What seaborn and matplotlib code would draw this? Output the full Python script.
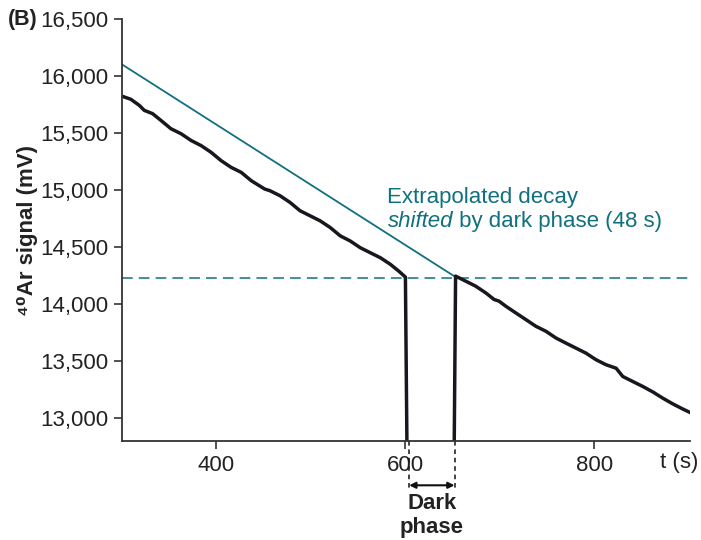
import numpy as np
import pandas as pd
import matplotlib
matplotlib.use("Agg")
import matplotlib.pyplot as plt
import matplotlib.transforms as mtransforms
import seaborn as sns

# ---- data ----
time_before = [300.5, 309.4, 318.3, 323.6, 332.4, 341.2, 351.8, 362.5, 373.1, 383.7,
               394.3, 404.9, 415.5, 426.2, 436.8, 451.0, 456.6, 467.3, 477.9, 488.5,
               499.1, 509.7, 520.4, 531.0, 541.6, 552.2, 562.8, 573.5, 584.1, 592.9,
               600.0, 601.8]
signal_before = [15824, 15798, 15745, 15701, 15672, 15613, 15540, 15496, 15437, 15392,
                 15333, 15260, 15201, 15157, 15084, 15011, 14996, 14952, 14893, 14820,
                 14776, 14732, 14673, 14600, 14555, 14496, 14452, 14408, 14350, 14291,
                 14238, 12600]
time_after = [651.5, 653.1, 663.7, 674.3, 685.0, 693.8, 699.1, 706.2, 716.8, 727.4,
              738.0, 748.7, 759.3, 769.9, 780.5, 791.1, 801.8, 812.4, 823.0, 830.1,
              840.7, 851.4, 862.0, 872.6, 883.2, 893.8, 902.6]
signal_after = [12600, 14247, 14203, 14159, 14100, 14042, 14027, 13983, 13924, 13866,
                13807, 13763, 13704, 13659, 13615, 13571, 13513, 13469, 13439, 13366,
                13322, 13278, 13230, 13175, 13125, 13080, 13045]
extrap_time = [300, 651.5]
extrap_signal = [16104, 14247]
baseline_level = 14230
dark_start, dark_end = 604, 652
x_ticks = [400, 600, 800]
y_ticks = [13000, 13500, 14000, 14500, 15000, 15500, 16000, 16500]

df = pd.DataFrame({
    "t": time_before + time_after,
    "signal": signal_before + signal_after,
    "seg": ["before"] * len(time_before) + ["after"] * len(time_after),
})
df_ex = pd.DataFrame({"t": extrap_time, "signal": extrap_signal})

sns.set_theme(style="ticks")
plt.rcParams["font.family"] = ["Liberation Sans", "DejaVu Sans"]

teal = "#10707f"
ink = "#222222"
fs = 16
fig = plt.figure(figsize=(7.01, 5.40), dpi=100)
ax = fig.add_axes([0.174, 0.1833, 0.81, 0.781])

sns.lineplot(data=df_ex, x="t", y="signal", color=teal, lw=1.3, ax=ax,
             estimator=None, sort=False)
sns.lineplot(data=df, x="t", y="signal", units="seg", color="#17171f", lw=2.5, ax=ax,
             estimator=None, sort=False)
ax.axhline(baseline_level, color=teal, lw=1.1, ls=(0, (7, 4)), zorder=1)

ax.set_xlim(300, 901)
ax.set_ylim(12800, 16500)
ax.set_xticks(x_ticks)
ax.set_yticks(y_ticks)
ax.set_yticklabels([f"{v:,}" for v in y_ticks])
ax.tick_params(axis="both", labelsize=fs, length=6, width=1.2, colors="#333333",
               labelcolor=ink, pad=4)
for s in ["top", "right"]:
    ax.spines[s].set_visible(False)
for s in ["left", "bottom"]:
    ax.spines[s].set_color("#333333")
    ax.spines[s].set_linewidth(1.3)

ax.set_xlabel("")
ax.set_ylabel("\u2074\u2070Ar signal (mV)", fontsize=fs, fontweight="bold", color=ink)
ax.yaxis.set_label_coords(-0.148, 0.5)

trans = mtransforms.blended_transform_factory(ax.transData, ax.transAxes)
ax.text(890, -0.05, "t (s)", transform=trans, ha="center", va="center", fontsize=fs,
        color=ink)
for xv in (dark_start, dark_end):
    ax.plot([xv, xv], [0, -0.112], transform=trans, color="#111111", lw=1.1,
            ls=(0, (3, 2.5)), clip_on=False)
ax.annotate("", xy=(dark_start, -0.105), xytext=(dark_end, -0.105),
            xycoords=trans, textcoords=trans,
            arrowprops=dict(arrowstyle="<|-|>", color="#111111", lw=1.5,
                            mutation_scale=9, shrinkA=0, shrinkB=0))
mid = (dark_start + dark_end) / 2
ax.text(mid, -0.147, "Dark", transform=trans, ha="center", va="center", fontsize=fs,
        fontweight="bold", color=ink)
ax.text(mid, -0.206, "phase", transform=trans, ha="center", va="center", fontsize=fs,
        fontweight="bold", color=ink)

ax.text(581, 14934, "Extrapolated decay", fontsize=fs, color=teal, va="center")
t2 = ax.text(581, 14725, "shifted", fontsize=fs, color=teal, va="center", style="italic")
ax.annotate(" by dark phase (48 s)", xy=(1, 0.5), xycoords=t2, va="center",
            fontsize=fs, color=teal)

fig.text(8 / 701, 1 - 20 / 540, "(B)", fontsize=15.5, fontweight="bold", color=ink,
         ha="left", va="center")

fig.savefig("out.png", dpi=100)
